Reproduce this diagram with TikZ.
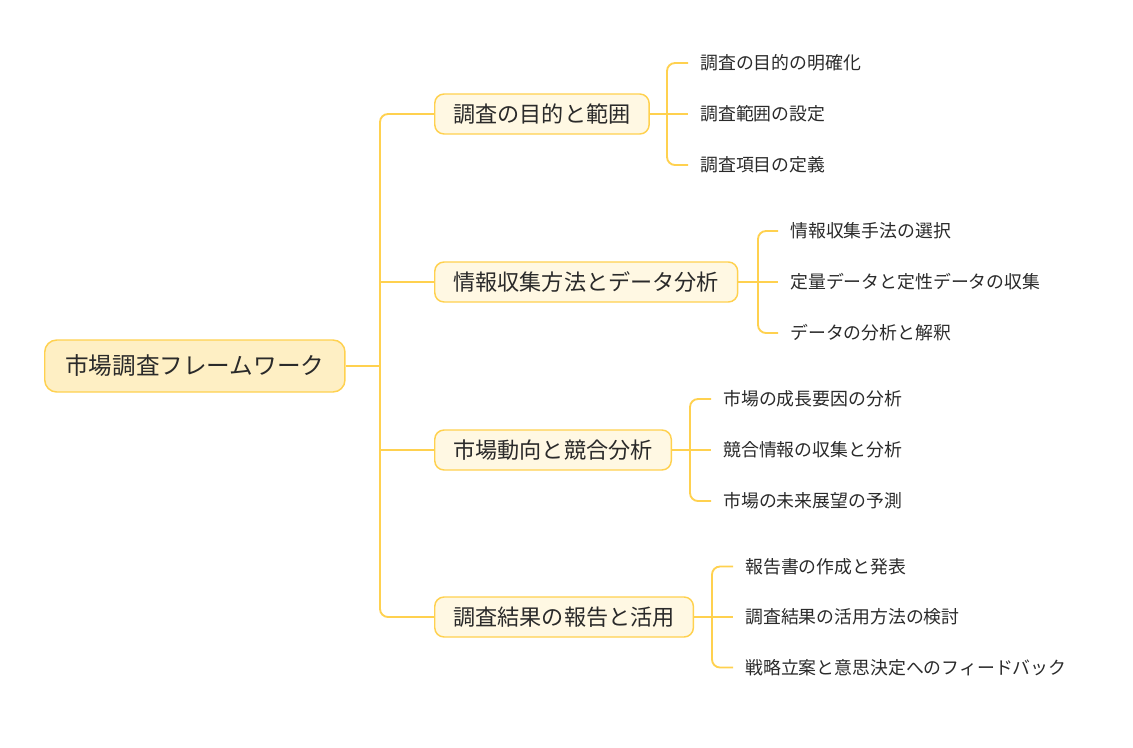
\documentclass[tikz,border=0pt]{standalone}
\usepackage{fontspec}
\newfontfamily\jpfont{Noto Sans CJK JP}
\definecolor{ink}{HTML}{2A2A2A}
\definecolor{lineyel}{HTML}{FFD14F}
\definecolor{rootfill}{HTML}{FEEFC4}
\definecolor{topicfill}{HTML}{FFF8E3}

\begin{document}
\begin{tikzpicture}[x=0.75pt, y=-0.75pt,
    root/.style  = {draw=lineyel, fill=rootfill, line width=1.1pt, rounded corners=9pt,
                    anchor=west, minimum height=39pt, inner xsep=15.5pt, text=ink,
                    font=\jpfont\fontsize{17.7pt}{20pt}\selectfont},
    topic/.style = {draw=lineyel, fill=topicfill, line width=1.1pt, rounded corners=7pt,
                    anchor=west, minimum height=30pt, inner xsep=14pt, text=ink,
                    font=\jpfont\fontsize{16.6pt}{19pt}\selectfont},
    leaf/.style  = {anchor=west, inner xsep=9pt, text=ink,
                    font=\jpfont\fontsize{13.4pt}{16pt}\selectfont},
    link/.style  = {draw=lineyel, line width=1.4pt}]

    \useasboundingbox (0,0) rectangle (1133,747);

    % Root and main topics
    \node [root] (r) at (44,366) {市場調査フレームワーク};
    \node [topic] (t1) at (434,114) {調査の目的と範囲};
    \node [topic] (t2) at (434,282) {情報収集方法とデータ分析};
    \node [topic] (t3) at (434,450) {市場動向と競合分析};
    \node [topic] (t4) at (434,617) {調査結果の報告と活用};

    % Trunk from the root to the topics
    \coordinate (trunk) at (380,366);
    \draw [link] (r.east) -- (trunk);
    \draw [link, rounded corners=6pt] (t1.west) -| (trunk);
    \draw [link, rounded corners=6pt] (t4.west) -| (trunk);
    \draw [link] (t2.west) -- (t2.west -| trunk);
    \draw [link] (t3.west) -- (t3.west -| trunk);

    % Sub topics (three per topic)
    \foreach \j/\txt in {1/調査の目的の明確化, 2/調査範囲の設定, 3/調査項目の定義} {
        \node [leaf] (s1\j) at (688, {114+51*(\j-2)}) {\txt};
    }
    \foreach \j/\txt in {1/情報収集手法の選択, 2/定量データと定性データの収集, 3/データの分析と解釈} {
        \node [leaf] (s2\j) at (778, {282+51*(\j-2)}) {\txt};
    }
    \foreach \j/\txt in {1/市場の成長要因の分析, 2/競合情報の収集と分析, 3/市場の未来展望の予測} {
        \node [leaf] (s3\j) at (711, {450+51*(\j-2)}) {\txt};
    }
    \foreach \j/\txt in {1/報告書の作成と発表, 2/調査結果の活用方法の検討, 3/戦略立案と意思決定へのフィードバック} {
        \node [leaf] (s4\j) at (733, {617+50.5*(\j-2)}) {\txt};
    }

    % Brackets from each topic to its sub topics
    \foreach \i/\kx in {1/667, 2/758, 3/690, 4/712} {
        \coordinate (k\i) at (\kx, 0 |- t\i.east);
        \draw [link] (t\i.east) -- (s\i2.west);
        \draw [link, rounded corners=6pt] (s\i1.west) -| (k\i) |- (s\i3.west);
    }
\end{tikzpicture}
\end{document}
